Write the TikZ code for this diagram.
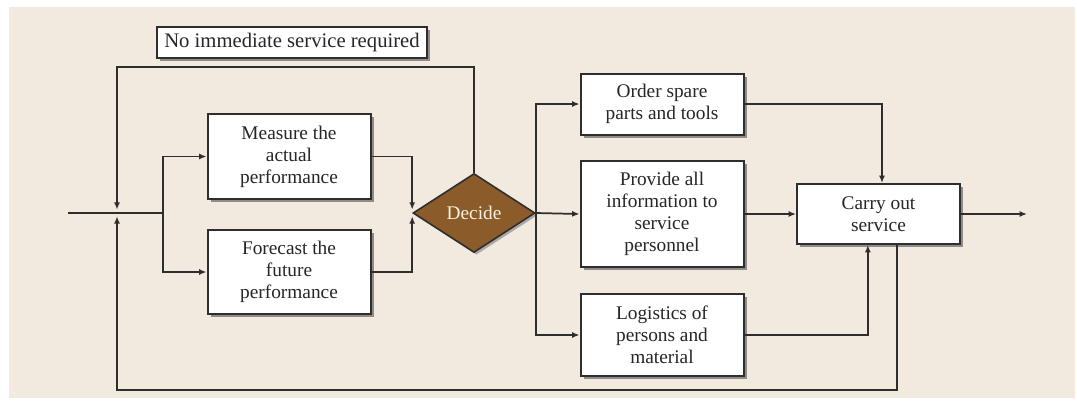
\documentclass[tikz,border=0pt]{standalone}
\usepackage{fontspec}
\setmainfont{Liberation Serif}
\usetikzlibrary{arrows.meta,shapes.geometric,shadows,calc}
\definecolor{panel}{HTML}{F2E9DF}
\definecolor{ink}{HTML}{2E2E2E}
\definecolor{decidefill}{HTML}{8B5C2A}
\definecolor{decidetext}{HTML}{F6EFDF}
\begin{document}
\begin{tikzpicture}[x=0.75pt,y=-0.75pt,
  every node/.style={font=\fontsize{14.5pt}{16.5pt}\selectfont,text=black!85},
  procbox/.style={rectangle,draw=ink,line width=1.5pt,fill=white,
    align=center,inner sep=0pt,
    drop shadow={shadow xshift=2.4pt,shadow yshift=-2.4pt,fill=black!60,opacity=.7}},
  decision/.style={diamond,draw=ink,line width=1.2pt,fill=decidefill,
    text=decidetext,inner sep=0pt,aspect=1.55,
    drop shadow={shadow xshift=1.8pt,shadow yshift=-1.8pt,fill=black!55,opacity=.55}},
  flow/.style={draw=ink,line width=1.3pt,-{Latex[length=5.5pt,width=4.5pt]}},
  plain/.style={draw=ink,line width=1.3pt}]
  \useasboundingbox (0,0) rectangle (1077,408);
  % backdrop
  \fill[white] (0,0) rectangle (1077,408);
  \fill[panel] (9,7) rectangle (1075,398);

  % boxes
  \node[procbox,minimum width=270*0.75pt,minimum height=31*0.75pt,
        font=\fontsize{15.5pt}{17pt}\selectfont] (noimm) at (292,42.5) {No immediate service required};
  \node[procbox,minimum width=163*0.75pt,minimum height=85*0.75pt] (meas) at (289,156.5) {Measure the\\actual\\performance};
  \node[procbox,minimum width=163*0.75pt,minimum height=84*0.75pt] (fore) at (289,272) {Forecast the\\future\\performance};
  \node[decision,minimum width=122*0.75pt,minimum height=79*0.75pt] (dec) at (474,213) {Decide};
  \node[procbox,minimum width=163*0.75pt,minimum height=61*0.75pt] (order) at (662,104) {Order spare\\parts and tools};
  \node[procbox,minimum width=163*0.75pt,minimum height=106*0.75pt] (prov) at (662,214) {Provide all\\information to\\service\\personnel};
  \node[procbox,minimum width=163*0.75pt,minimum height=82*0.75pt] (logi) at (662,335) {Logistics of\\persons and\\material};
  \node[procbox,minimum width=163*0.75pt,minimum height=60*0.75pt] (carry) at (878.5,214) {Carry out\\service};

  % junctions and free ends
  \coordinate (in)   at (68,213);
  \coordinate (j1)   at (117,213);
  \coordinate (j2)   at (163,213);
  \coordinate (ltop) at (117,67);
  \coordinate (lbot) at (117,390);
  \coordinate (out)  at (1027,214);

  % input and split towards the two assessments
  \draw[plain] (in) -- (j2);
  \draw[flow] (j2) |- (meas.west);
  \draw[flow] (j2) |- (fore.west);

  % both assessments feed the decision
  \draw[flow] (meas.east) -| ([yshift=2.5pt]dec.west);
  \draw[flow] (fore.east) -| ([yshift=-2.5pt]dec.west);

  % loop back when no service is required
  \draw[flow] (dec.north) |- (ltop) -- ([yshift=2.5pt]j1);

  % decision branches
  \draw[flow] (dec.east) |- (order.west);
  \draw[flow] (dec.east) -- (prov.west);
  \draw[flow] (dec.east) |- (logi.west);

  % preparations lead to the service
  \draw[flow] (order.east) -| ([xshift=2.6pt]carry.north);
  \draw[flow] (prov.east) -- (carry.west);
  \draw[flow] (logi.east) -| ([xshift=-8pt]carry.south);

  % output and feedback loop
  \draw[flow] (carry.east) -- (out);
  \draw[flow] ([xshift=14pt]carry.south) |- (lbot) -- ([yshift=-2.5pt]j1);
\end{tikzpicture}
\end{document}
